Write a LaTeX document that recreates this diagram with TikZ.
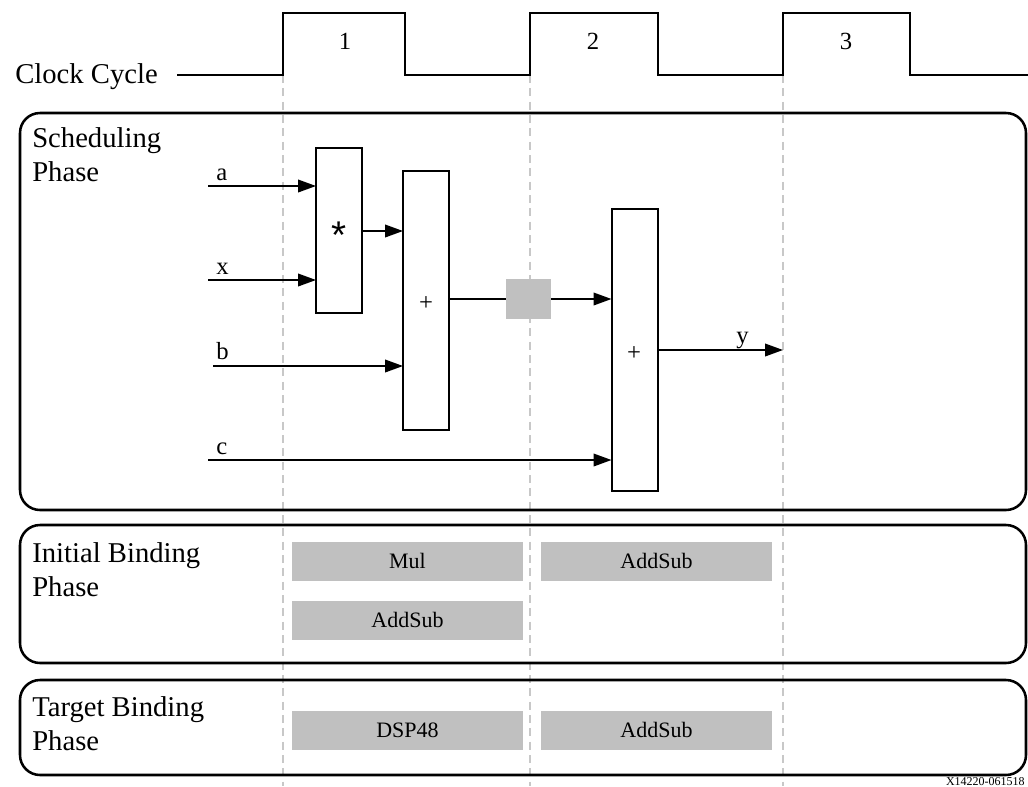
\documentclass[tikz,border=0pt]{standalone}
\usepackage{fontspec}
\setmainfont{Liberation Serif}
\newfontfamily\opfont{Liberation Sans}
\usetikzlibrary{arrows.meta}
\begin{document}
\begin{tikzpicture}[x=0.75pt,y=-0.75pt,
  big/.style={font=\fontsize{21.5}{25.5}\selectfont},
  mid/.style={font=\fontsize{18.5}{22}\selectfont},
  small/.style={font=\fontsize{16.5}{20}\selectfont},
  opbox/.style={draw,line width=1.5pt,minimum width=34.5pt,inner sep=0pt,outer sep=0pt},
  phase/.style={draw,line width=1.9pt,rounded corners=15pt},
  resbox/.style={fill=boxgray,minimum width=173pt,minimum height=29.5pt,inner sep=0pt,
    text height=12.5pt,text depth=1.6pt,small},
  guide/.style={draw=guidegray,line width=0.8pt,dash pattern=on 6pt off 4pt},
  wire/.style={line width=1.3pt},
  flow/.style={wire,-{Triangle[length=13.5pt,width=9.5pt]}}]
\definecolor{boxgray}{HTML}{C0C0C0}
\definecolor{guidegray}{HTML}{C8C8C8}
\useasboundingbox (0,0) rectangle (1028,786);

% cycle boundaries
\foreach \gx in {283,530,783}
  \draw[guide] (\gx,75) -- (\gx,786);

% clock waveform
\node[big,anchor=base west,inner sep=0pt] (clk) at (15,83) {Clock Cycle};
\draw[line width=1.6pt] (177,75) -- (283,75) -- (283,13) -- (405,13) -- (405,75)
  -- (530,75) -- (530,13) -- (658,13) -- (658,75) -- (783,75) -- (783,13)
  -- (910,13) -- (910,75) -- (1030,75);
\node[mid] (c1) at (345,41) {1};
\node[mid] (c2) at (593,41) {2};
\node[mid] (c3) at (846,41) {3};

% phase frames
\draw[phase] (20,113) rectangle (1026,510);
\draw[phase] (20,525) rectangle (1026,663);
\draw[phase] (20,680) rectangle (1026,775);

\node[big,anchor=north west,align=left,inner sep=0pt] (sch) at (32,127) {Scheduling\\Phase};
\node[big,anchor=north west,align=left,inner sep=0pt] (ini) at (32,542) {Initial Binding\\Phase};
\node[big,anchor=north west,align=left,inner sep=0pt] (tgt) at (32,696) {Target Binding\\Phase};

% scheduled data-flow graph
\node[opbox,minimum height=124pt] (mul) at (339,230.5) {};
\node[font=\opfont\fontsize{29}{29}\selectfont,inner sep=0pt] at (339,235) {*};
\node[opbox,minimum height=194pt] (add1) at (426,300.5) {};
\node[mid] at (426,304) {+};
\node[opbox,minimum height=211.5pt] (add2) at (634.5,350) {};
\node[mid] at (634,354) {+};
\node[fill=boxgray,minimum width=34pt,minimum height=30pt,inner sep=0pt] (reg) at (528.5,299) {};

\coordinate (ina) at (208,186);
\coordinate (inx) at (208,280);
\coordinate (inb) at (213,366);
\coordinate (inc) at (208,460);
\coordinate (outy) at (783,350);

\node[mid,anchor=base west,inner sep=0pt] at (216,180) {a};
\node[mid,anchor=base west,inner sep=0pt] at (216,274) {x};
\node[mid,anchor=base west,inner sep=0pt] at (216,359) {b};
\node[mid,anchor=base west,inner sep=0pt] at (216,454) {c};
\node[mid,anchor=base west,inner sep=0pt] at (736,343) {y};

\draw[flow] (ina) -- (ina -| mul.west);
\draw[flow] (inx) -- (inx -| mul.west);
\draw[flow] (mul.east |- 0,231) -- (add1.west |- 0,231);
\draw[flow] (inb) -- (inb -| add1.west);
\draw[wire] (add1.east |- reg.west) -- (reg.west);
\draw[flow] (reg.east) -- (reg.east -| add2.west);
\draw[flow] (inc) -- (inc -| add2.west);
\draw[flow] (add2.east |- outy) -- (outy);

% resource bindings
\node[resbox] (mulA) at (407.5,561.5) {Mul};
\node[resbox] (addA) at (656.5,561.5) {AddSub};
\node[resbox] (addB) at (407.5,620.5) {AddSub};
\node[resbox] (dsp) at (407.5,730.5) {DSP48};
\node[resbox] (addC) at (656.5,730.5) {AddSub};

\node[font=\fontsize{9}{11}\selectfont,anchor=base east,inner sep=0pt] (fig) at (1025,785) {X14220-061518};
\end{tikzpicture}
\end{document}
